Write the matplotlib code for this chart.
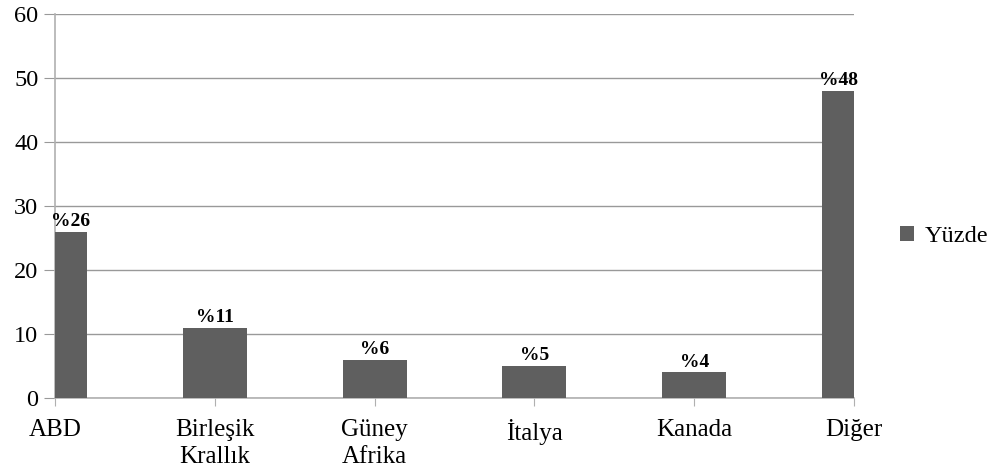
import matplotlib
matplotlib.use("Agg")
import matplotlib.pyplot as plt
from matplotlib.patches import Patch

categories = ["ABD", "Birleşik\nKrallık", "Güney\nAfrika", "İtalya", "Kanada", "Diğer"]
values = [26, 11, 6, 5, 4, 48]
labels = ["%26", "%11", "%6", "%5", "%4", "%48"]
series_name = "Yüzde"

plt.rcParams['font.family'] = ['Liberation Serif', 'DejaVu Serif']

fig = plt.figure(figsize=(9.95, 4.70), dpi=100)
ax = fig.add_axes([0.0553, 0.153, 0.8030, 0.817])

bar_color = "#5f5f5f"
grid_color = "#999999"
w = 0.4
x = list(range(len(categories)))
ax.bar(x, values, width=w, color=bar_color, zorder=3)
ax.set_xlim(0, len(categories) - 1)
ax.set_ylim(0, 60)
ax.set_yticks(range(0, 61, 10))
ax.yaxis.grid(True, color=grid_color, linewidth=1.0, zorder=0)
ax.set_axisbelow(True)

for s in ["top", "right"]:
    ax.spines[s].set_visible(False)
ax.spines["left"].set_color("#b0b0b0")
ax.spines["bottom"].set_color("#b0b0b0")
ax.spines["left"].set_linewidth(1.2)
ax.spines["bottom"].set_linewidth(1.2)

ax.set_xticks(x)
ax.set_xticklabels(categories, fontsize=18, linespacing=1.3)
ax.tick_params(axis="x", length=6, color="#b0b0b0", pad=9)
ax.tick_params(axis="y", length=8, color=grid_color, labelsize=17.5, pad=4)

x0, x1 = ax.get_xlim()
for xi, v, lab in zip(x, values, labels):
    lo = max(x0, xi - w / 2)
    hi = min(x1, xi + w / 2)
    cx = (lo + hi) / 2
    ax.text(cx, v + 0.3, lab, ha="center", va="bottom", fontsize=14,
            fontweight="bold", zorder=4)

handle = Patch(facecolor=bar_color, edgecolor="none")
fig.legend([handle], [series_name], loc="center left",
           bbox_to_anchor=(0.905, 0.497), frameon=False, fontsize=17.5,
           handlelength=0.55, handleheight=0.55, handletextpad=0.45,
           borderpad=0.0, borderaxespad=0.0)

fig.savefig("out.png", dpi=100)
